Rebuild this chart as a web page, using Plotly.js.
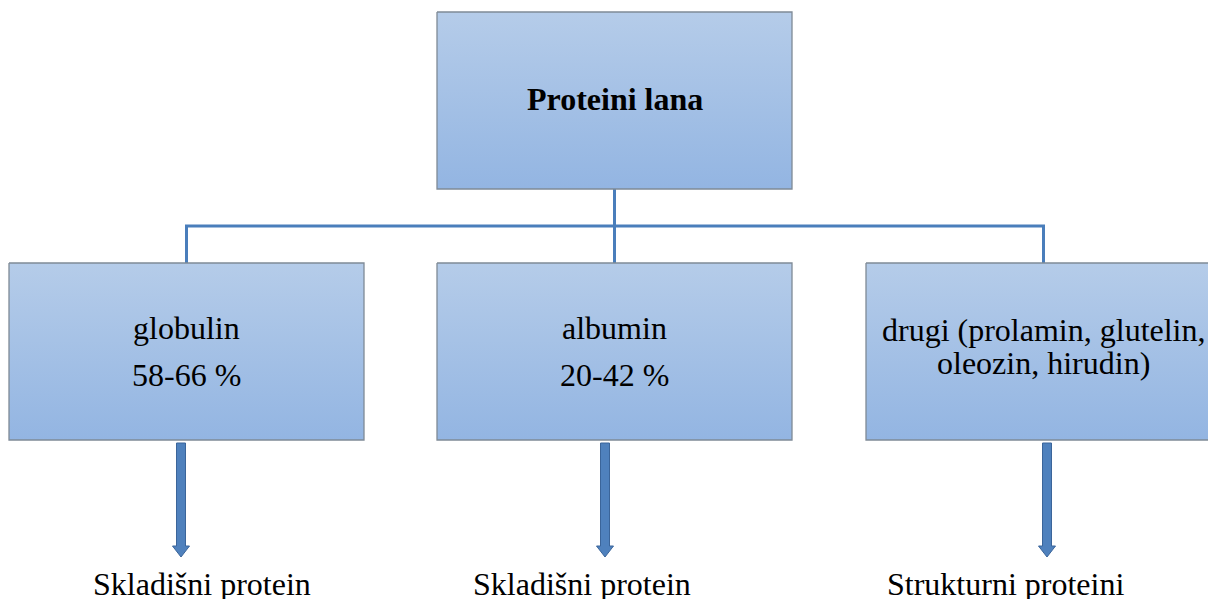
<!DOCTYPE html>
<html>
<head>
<meta charset="utf-8">
<script src="https://cdn.plot.ly/plotly-3.0.1.min.js"></script>
<style>html,body{margin:0;padding:0;background:#fff;}#chart{width:1208px;height:599px;}</style>
</head>
<body>
<div id="chart"></div>
<script>
// ---- content ----
const rootLabel = 'Proteini lana';
const groupNames = ['globulin', 'albumin', 'drugi (prolamin, glutelin,'];
const groupSecondLines = ['58-66 %', '20-42 %', 'oleozin, hirudin)'];
const leafLabels = ['Skladišni protein', 'Skladišni protein', 'Strukturni proteini'];

// ---- layout (pixel space) ----
const W = 1208, H = 599;
const rootBox = {x0: 437, x1: 792, y0: 12, y1: 189};
const childLefts = [9, 437, 866];
const childWidth = 355;
const childTop = 263, childBottom = 440;
const busY = 226;
const arrowCenters = [181, 605, 1047];
const arrowTop = 443, arrowHeadStart = 546, arrowTip = 557;
const leafCenters = [202, 582, 1005];
const leafY = 584;
const firstLineY = [328, 328, 330];
const secondLineY = [375, 375, 363];

const serif = 'Liberation Serif';
const gradTop = '#b5cce9', gradBottom = '#93b5e2';
const borderCol = '#7f8a96';
const connCol = '#4a7ebb';

function boxTrace(b) {
  return {
    type: 'scatter', mode: 'lines',
    x: [b.x0, b.x1, b.x1, b.x0, b.x0],
    y: [b.y0, b.y0, b.y1, b.y1, b.y0],
    fill: 'toself',
    fillgradient: {type: 'vertical', start: b.y0, stop: b.y1,
      colorscale: [[0, gradTop], [1, gradBottom]]},
    line: {color: borderCol, width: 1.3},
    hoverinfo: 'skip', showlegend: false
  };
}

const traces = [boxTrace(rootBox)];
const childCenters = childLefts.map(l => l + childWidth / 2);
childLefts.forEach(l => traces.push(boxTrace({x0: l, x1: l + childWidth, y0: childTop, y1: childBottom})));

const shapes = [];
const rootCx = (rootBox.x0 + rootBox.x1) / 2;
function ln(x0, y0, x1, y1) {
  shapes.push({type: 'line', xref: 'x', yref: 'y', x0, y0, x1, y1, line: {color: connCol, width: 3}, layer: 'below'});
}
ln(rootCx, rootBox.y1, rootCx, busY);
ln(childCenters[0] - 1.5, busY, childCenters[2] + 1.5, busY);
childCenters.forEach(c => ln(c, busY, c, childTop));

arrowCenters.forEach(c => {
  const sw = 4.5, hw = 8.5;
  const p = `M ${c - sw} ${arrowTop} L ${c + sw} ${arrowTop} L ${c + sw} ${arrowHeadStart} L ${c + hw} ${arrowHeadStart} L ${c} ${arrowTip} L ${c - hw} ${arrowHeadStart} L ${c - sw} ${arrowHeadStart} Z`;
  shapes.push({type: 'path', xref: 'x', yref: 'y', path: p, fillcolor: '#4f81bd', line: {color: '#3b659a', width: 1}});
});

const annotations = [];
function txt(x, y, t, bold) {
  annotations.push({x, y, xref: 'x', yref: 'y', text: bold ? '<b>' + t + '</b>' : t, showarrow: false,
    xanchor: 'center', yanchor: 'middle', font: {family: serif, size: 32, color: '#000'}});
}
txt(rootCx, 99, rootLabel, true);
groupNames.forEach((g, i) => txt(childCenters[i], firstLineY[i], g, false));
groupSecondLines.forEach((g, i) => txt(childCenters[i], secondLineY[i], g, false));
leafLabels.forEach((g, i) => txt(leafCenters[i], leafY, g, false));

const ax = {showgrid: false, zeroline: false, showticklabels: false, showline: false, ticks: '', fixedrange: true};
const layout = {
  width: W, height: H, autosize: false,
  margin: {l: 0, r: 0, t: 0, b: 0, pad: 0},
  paper_bgcolor: '#ffffff', plot_bgcolor: '#ffffff',
  font: {family: serif},
  xaxis: Object.assign({range: [0, W]}, ax),
  yaxis: Object.assign({range: [H, 0]}, ax),
  shapes, annotations, showlegend: false
};
Plotly.newPlot('chart', traces, layout, {displayModeBar: false, staticPlot: true});
</script>
</body>
</html>
